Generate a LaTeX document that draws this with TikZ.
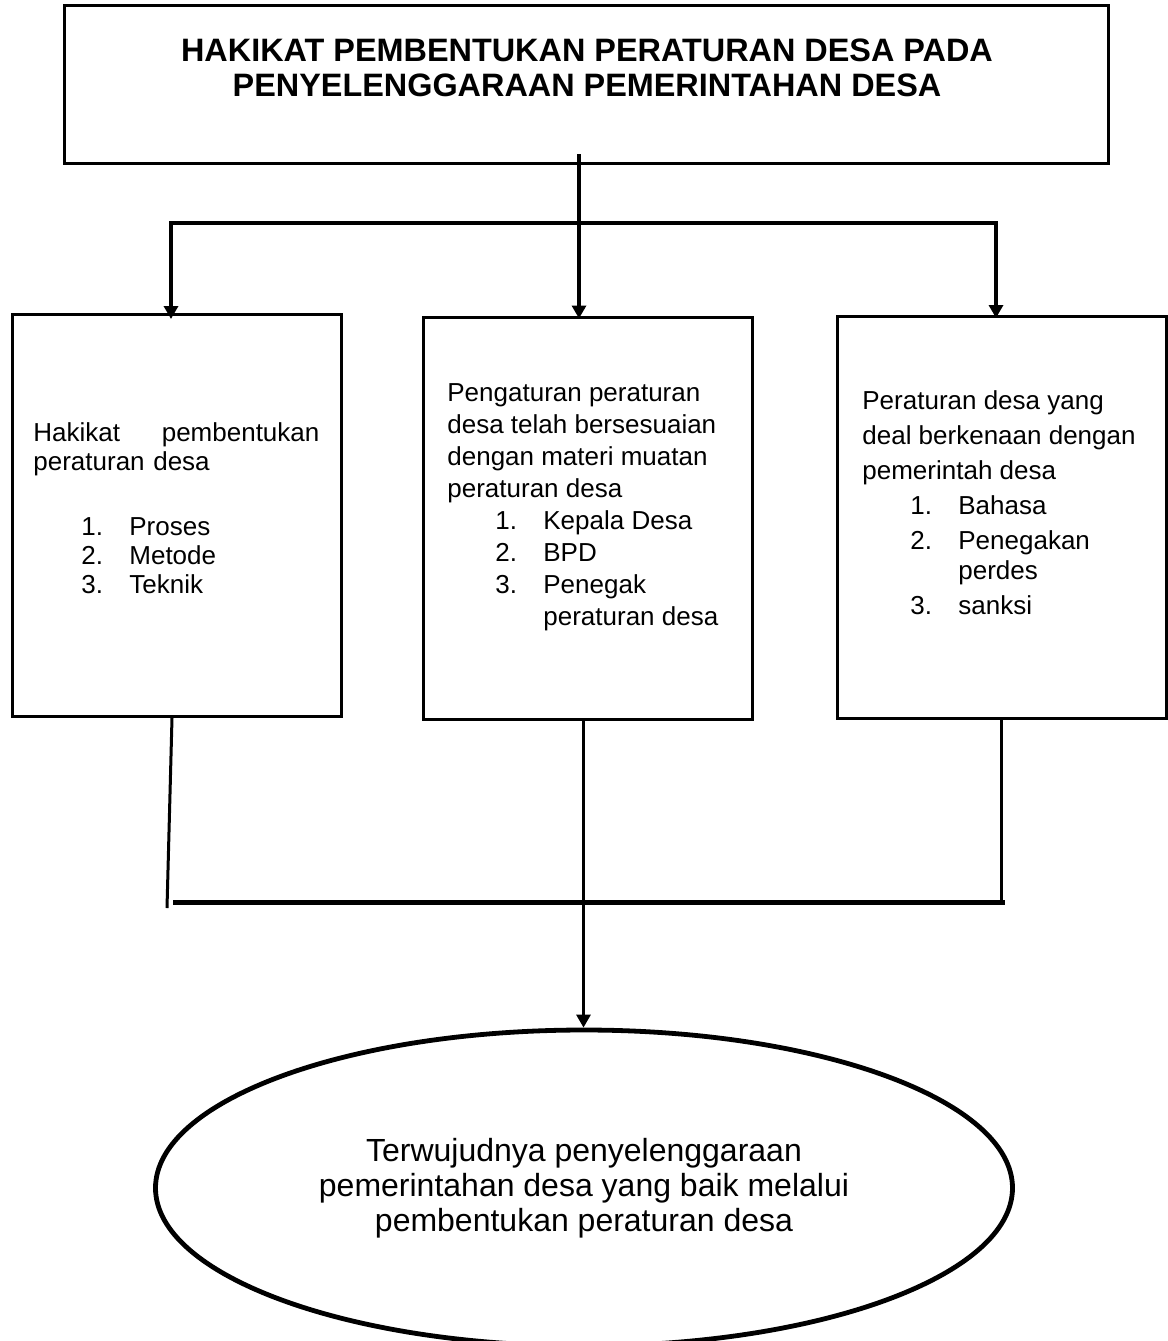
\documentclass[tikz,border=0pt]{standalone}
\usepackage{fontspec}
\setmainfont{Liberation Sans}
\usepackage{tikz}
\usetikzlibrary{arrows.meta,shapes.geometric}

\newcommand{\itm}[2]{\hspace*{24pt}\makebox[24pt][l]{#1}#2}

\begin{document}
\begin{tikzpicture}[
  x=0.5pt, y=-0.5pt,
  box/.style={draw, line width=1.5pt, minimum width=164.5pt, minimum height=201pt, inner sep=0pt},
  txt/.style={anchor=north west, inner sep=0pt, align=left, font=\fontsize{13}{16}\selectfont},
  arr/.style={-{Triangle[length=6.5pt,width=7pt]}, line width=2pt},
  link/.style={line width=1.5pt},
]
  \useasboundingbox (0,0) rectangle (1168,1341);

  % Title
  \node[box, minimum width=522pt, minimum height=79pt] (title) at (586,84) {};
  \node[font=\fontsize{16.2}{17.5}\selectfont\bfseries, align=center, inner sep=0pt] (titletxt) at (587,68)
    {HAKIKAT PEMBENTUKAN PERATURAN DESA PADA\\PENYELENGGARAAN PEMERINTAHAN DESA};

  % Boxes
  \node[box] (hakikat) at (176.5,515.5) {};
  \node[txt, text width=143pt, font=\fontsize{13}{14.5}\selectfont] (hakikattxt) at (33,422)
    {Hakikat\hfill pembentukan\\ peraturan desa\\[18pt]
     \itm{1.}{Proses}\\ \itm{2.}{Metode}\\ \itm{3.}{Teknik}};

  \node[box] (pengaturan) at (587.5,518) {};
  \node[txt] (pengaturantxt) at (447,383)
    {Pengaturan peraturan\\ desa telah bersesuaian\\ dengan materi muatan\\ peraturan desa\\
     \itm{1.}{Kepala Desa}\\ \itm{2.}{BPD}\\ \itm{3.}{Penegak}\\ \hspace*{48pt}peraturan desa};

  \node[box] (perdes) at (1002,517.5) {};
  \node[txt, font=\fontsize{13}{17.5}\selectfont] (perdestxt) at (862,390)
    {Peraturan desa yang\\ deal berkenaan dengan\\ pemerintah desa\\ \itm{1.}{Bahasa}\\
     \itm{2.}{Penegakan}\\[-2.5pt] \hspace*{48pt}perdes\\ \itm{3.}{sanksi}};

  % Goal
  \node[draw, ellipse, line width=2.4pt, minimum width=428.5pt, minimum height=158pt, inner sep=0pt,
        font=\fontsize{16}{17.5}\selectfont, align=center] (tujuan) at (584,1188)
    {Terwujudnya penyelenggaraan\\ pemerintahan desa yang baik melalui\\ pembentukan peraturan desa};

  % From the title down to the three boxes
  \coordinate (stemtop) at (579,154);
  \coordinate (fork) at (579,223);
  \draw[line width=2pt] (stemtop) -- (fork);
  \draw[arr] (fork) -| ([xshift=-2.75pt,yshift=-3pt]hakikat.north);
  \draw[arr] (fork) -- ([yshift=-1.5pt]fork |- pengaturan.north);
  \draw[arr] (fork) -| ([xshift=-3pt,yshift=-1.5pt]perdes.north);

  % Joining the boxes into the goal
  \coordinate (joinL) at (167,908);
  \coordinate (joinR) at (1001,900);
  \coordinate (barL) at (173,902);
  \coordinate (barR) at (1005,902);
  \draw[link] ([xshift=-2.25pt]hakikat.south) -- (joinL);
  \draw[link] ([xshift=-0.5pt]perdes.south) -- (joinR);
  \draw[line width=2.5pt] (barL) -- (barR);
  \draw[arr, line width=1.5pt] ([xshift=-2pt]pengaturan.south) -- ([xshift=-2pt]pengaturan.south |- tujuan.north);
\end{tikzpicture}
\end{document}
